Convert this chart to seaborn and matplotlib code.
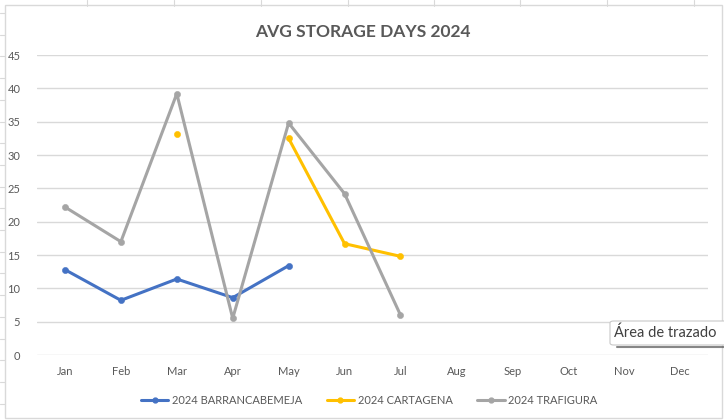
import numpy as np
import pandas as pd
import seaborn as sns
import matplotlib.pyplot as plt
from matplotlib.lines import Line2D
from matplotlib.patches import Rectangle, FancyBboxPatch

months = ["Jan", "Feb", "Mar", "Apr", "May", "Jun", "Jul", "Aug", "Sep", "Oct", "Nov", "Dec"]
barranca = [12.8, 8.2, 11.4, 8.6, 13.4, None, None, None, None, None, None, None]
cartagena = [None, None, 33.2, None, 32.5, 16.7, 14.8, None, None, None, None, None]
trafigura = [22.2, 17.0, 39.2, 5.5, 34.8, 24.2, 6.0, None, None, None, None, None]
series_names = ["2024 BARRANCABEMEJA", "2024 CARTAGENA", "2024 TRAFIGURA"]
colors = ["#4472C4", "#FFC000", "#A5A5A5"]
yticks = [0, 5, 10, 15, 20, 25, 30, 35, 40, 45]

sns.set_theme(style="white")
plt.rcParams['font.family'] = ['Lato', 'DejaVu Sans']

W, H = 724, 420
fig = plt.figure(figsize=(W / 100, H / 100), dpi=100)

# spreadsheet background grid
for x in [87, 174, 261, 348, 434, 520, 607, 694]:
    fig.add_artist(Line2D([x / W, x / W], [1, 1 - 6 / H], color="#D9D9D9", lw=0.8))
for y in np.arange(13, 420, 21.7):
    fig.add_artist(Line2D([0, 5 / W], [1 - y / H, 1 - y / H], color="#D9D9D9", lw=0.8))
# chart area border
fig.add_artist(Rectangle((5 / W, 1 - 418 / H), 717 / W, 413 / H, fill=True,
                         facecolor="white", edgecolor="#D9D9D9", lw=1.0, zorder=0))

ax = fig.add_axes([37 / W, 1 - 355 / H, 671 / W, 300 / H])
ax.set_facecolor("none")

idx = np.arange(len(months))
df = pd.DataFrame({"month": months, "idx": idx,
                   series_names[0]: barranca,
                   series_names[1]: cartagena,
                   series_names[2]: trafigura})
for name, col in zip(series_names, colors):
    vals = pd.to_numeric(df[name], errors="coerce")
    # line segments only between consecutive points
    sns.lineplot(x=df["idx"], y=vals, ax=ax, color=col, lw=2.2, legend=False,
                 estimator=None, sort=False, zorder=3)
    ax.lines[-1].set_ydata(vals.values)
    ax.lines[-1].set_xdata(df["idx"].values)
    sns.scatterplot(x=df["idx"], y=vals, ax=ax, color=col, s=20, edgecolor=col,
                    legend=False, zorder=4)

ax.set_xlim(-0.5, 11.5)
ax.set_ylim(0, 45)
ax.set_yticks(yticks)
ax.set_xticks(idx)
ax.set_xticklabels(months)
ax.yaxis.grid(True, color="#D9D9D9", lw=1.0)
ax.xaxis.grid(False)
for s in ax.spines.values():
    s.set_visible(False)
ax.tick_params(axis="both", length=0, labelsize=8, labelcolor="#595959")
ax.tick_params(axis="x", pad=8)
ax.tick_params(axis="y", pad=12)
ax.set_xlabel("")
ax.set_ylabel("")

fig.text(363 / W, 1 - 32 / H, "AVG STORAGE DAYS 2024", ha="center", va="center",
         fontsize=12.5, fontweight="bold", color="#595959")

handles = [Line2D([0], [0], color=c, lw=2.2, marker="o", markersize=3.5) for c in colors]
leg = fig.legend(handles, series_names, loc="center", bbox_to_anchor=(369 / W, 1 - 400 / H),
                 ncol=3, frameon=False, fontsize=8, handlelength=2.5, columnspacing=2.2,
                 handletextpad=0.3)
for t in leg.get_texts():
    t.set_color("#595959")

# tooltip artifact
fig.add_artist(FancyBboxPatch((610 / W, 1 - 345 / H), 120 / W, 24 / H,
                              boxstyle="round,pad=0,rounding_size=0.005",
                              facecolor="white", edgecolor="#C8C8C8", lw=0.8, zorder=10))
fig.add_artist(Line2D([617 / W, 724 / W], [1 - 347 / H, 1 - 347 / H],
                      color="#555555", lw=1.5, alpha=0.7, zorder=9))
fig.text(614 / W, 1 - 333 / H, "Área de trazado", ha="left", va="center",
         fontsize=10.5, color="#404040", zorder=11)

fig.savefig("out.png", dpi=100)
